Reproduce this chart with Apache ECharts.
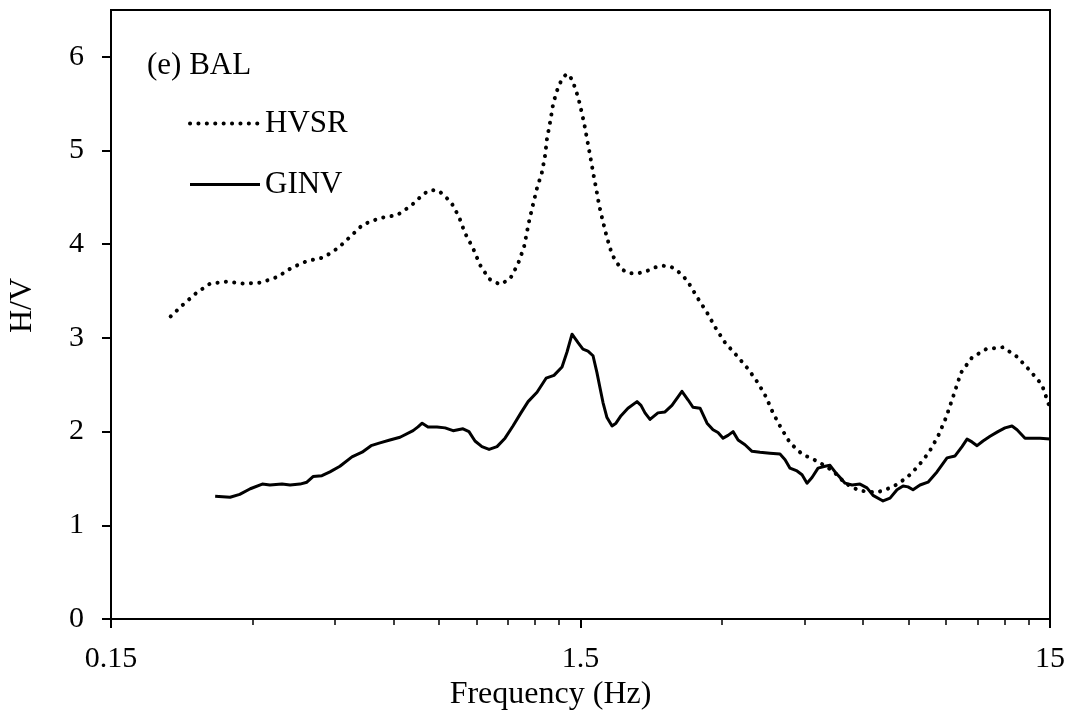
<!DOCTYPE html>
<html>
<head>
<meta charset="utf-8">
<title>H/V spectral ratio – BAL</title>
<script src="https://cdn.jsdelivr.net/npm/echarts@6.0.0/dist/echarts.min.js"></script>
<style>
  html, body { margin: 0; padding: 0; background: #fff; }
  #chart { width: 1073px; height: 715px; }
</style>
</head>
<body>
<div id="chart"></div>
<script>
// Frequency axis ticks (Hz); positions are handled on a log10 scale
const xMajorTicks = [0.15, 1.5, 15];
const xTickLabels = ['0.15', '1.5', '15'];
const xMinorTicks = [0.3, 0.45, 0.6, 0.75, 0.9, 1.05, 1.2, 1.35,
                     3, 4.5, 6, 7.5, 9, 10.5, 12, 13.5];
const yTicks = [0, 1, 2, 3, 4, 5, 6];

// HVSR curve: frequency (Hz) and H/V amplitude
const hvsrFreq = [0.201,0.213,0.228,0.244,0.265,0.288,0.313,0.339,0.364,0.392,
  0.426,0.457,0.480,0.516,0.561,0.610,0.653,0.696,0.721,0.749,
  0.795,0.827,0.851,0.885,0.916,0.958,1.011,1.062,1.104,1.137,
  1.165,1.188,1.212,1.242,1.261,1.273,1.292,1.311,1.324,1.343,
  1.363,1.390,1.404,1.439,1.460,1.482,1.496,1.526,1.548,1.572,
  1.595,1.619,1.643,1.675,1.708,1.751,1.794,1.839,1.903,1.989,
  2.069,2.151,2.248,2.338,2.420,2.492,2.554,2.669,2.790,2.915,
  3.047,3.216,3.411,3.582,3.726,3.855,4.010,4.191,4.446,4.809,
  5.177,5.490,5.880,6.422,6.945,7.440,7.854,8.289,8.661,9.009,
  9.323,9.696,10.23,10.96,11.91,12.76,13.60,14.42,15.0];
const hvsrHV = [3.23,3.35,3.48,3.58,3.60,3.58,3.59,3.65,3.75,3.82,
  3.86,3.96,4.06,4.21,4.28,4.31,4.41,4.54,4.58,4.57,
  4.45,4.29,4.12,3.96,3.78,3.63,3.57,3.63,3.79,3.97,
  4.24,4.42,4.60,4.77,4.95,5.13,5.30,5.49,5.57,5.67,
  5.74,5.80,5.82,5.76,5.67,5.57,5.49,5.30,5.13,4.95,
  4.77,4.60,4.42,4.24,4.07,3.89,3.80,3.73,3.69,3.69,
  3.71,3.75,3.77,3.76,3.71,3.65,3.58,3.42,3.27,3.10,
  2.95,2.82,2.67,2.52,2.37,2.20,2.04,1.88,1.76,1.68,
  1.58,1.45,1.37,1.35,1.41,1.51,1.63,1.78,1.95,2.15,
  2.37,2.63,2.79,2.88,2.90,2.80,2.65,2.50,2.25];

// GINV curve: frequency (Hz) and H/V amplitude
const ginvFreq = [0.250,0.269,0.282,0.297,0.315,0.327,0.347,0.361,0.379,0.392,
  0.404,0.422,0.439,0.461,0.489,0.514,0.537,0.561,0.589,0.619,
  0.660,0.676,0.690,0.710,0.742,0.772,0.803,0.843,0.868,0.894,
  0.925,0.958,0.996,1.036,1.077,1.120,1.160,1.212,1.267,1.317,
  1.370,1.404,1.439,1.482,1.518,1.556,1.595,1.626,1.650,1.675,
  1.708,1.751,1.785,1.830,1.893,1.979,2.018,2.058,2.109,2.193,
  2.270,2.349,2.467,2.541,2.604,2.696,2.790,2.873,2.944,3.018,
  3.093,3.170,3.249,3.361,3.479,3.618,3.798,3.990,4.091,4.191,
  4.338,4.446,4.556,4.669,4.809,4.977,5.100,5.227,5.357,5.490,
  5.682,5.907,6.114,6.297,6.615,6.845,7.083,7.296,7.476,7.662,
  7.929,8.247,8.616,9.053,9.416,9.744,9.986,10.23,10.49,10.80,
  11.18,11.62,12.03,12.45,12.76,13.27,13.73,14.28,15.0];
const ginvHV = [1.31,1.30,1.33,1.39,1.44,1.43,1.44,1.43,1.44,1.46,
  1.52,1.53,1.57,1.63,1.73,1.78,1.85,1.88,1.91,1.94,
  2.01,2.05,2.09,2.05,2.05,2.04,2.01,2.03,2.00,1.90,
  1.84,1.81,1.84,1.93,2.06,2.20,2.32,2.42,2.57,2.60,
  2.69,2.85,3.04,2.95,2.88,2.86,2.81,2.63,2.47,2.31,
  2.15,2.06,2.09,2.17,2.25,2.32,2.28,2.20,2.13,2.20,
  2.21,2.28,2.43,2.34,2.26,2.25,2.09,2.02,1.99,1.93,
  1.96,2.00,1.91,1.86,1.79,1.78,1.77,1.76,1.70,1.61,
  1.58,1.54,1.45,1.51,1.61,1.63,1.64,1.57,1.51,1.45,
  1.43,1.44,1.40,1.32,1.26,1.29,1.38,1.42,1.41,1.38,
  1.43,1.46,1.57,1.72,1.74,1.84,1.92,1.89,1.85,1.90,
  1.95,2.00,2.04,2.06,2.02,1.93,1.93,1.93,1.92];

const FONT = 'Liberation Serif';
const lg = Math.log10;
const toXY = (fs, vs) => fs.map((f, i) => [lg(f), vs[i]]);
const labelFor = v => {
  const idx = xMajorTicks.findIndex(t => Math.abs(lg(t) - v) < 1e-6);
  return idx >= 0 ? xTickLabels[idx] : '';
};

const dottedStyle = { color: '#000', width: 4, type: [0.1, 8.3], cap: 'round', join: 'round' };
const solidStyle = { color: '#000', width: 3, type: 'solid', cap: 'butt', join: 'round' };

const chart = echarts.init(document.getElementById('chart'), null, { renderer: 'canvas' });

chart.setOption({
  animation: false,
  backgroundColor: '#fff',
  title: {
    text: '(e) BAL',
    left: 142,
    top: 45,
    textStyle: { fontFamily: FONT, fontSize: 31, fontWeight: 'normal', color: '#000' }
  },
  legend: {
    orient: 'vertical',
    left: 183,
    top: 103,
    itemWidth: 70,
    itemHeight: 14,
    itemGap: 30,
    selectedMode: false,
    itemStyle: { opacity: 0 },
    textStyle: { fontFamily: FONT, fontSize: 31, color: '#000' },
    data: [
      { name: 'HVSR', lineStyle: dottedStyle, itemStyle: { opacity: 0 } },
      { name: 'GINV', lineStyle: solidStyle, itemStyle: { opacity: 0 } }
    ]
  },
  grid: {
    left: 111, right: 23, top: 10, bottom: 96,
    show: true, borderColor: '#000', borderWidth: 2,
    containLabel: false,
    outerBoundsMode: 'none'
  },
  xAxis: [
    {
      type: 'value',
      min: lg(0.15), max: lg(15),
      position: 'bottom',
      name: 'Frequency (Hz)',
      nameLocation: 'middle',
      nameGap: 59,
      nameTextStyle: { fontFamily: FONT, fontSize: 32, color: '#000', padding: [0, 60, 0, 0] },
      axisLine: { show: true, onZero: false, lineStyle: { color: '#000', width: 2 } },
      axisTick: { show: true, inside: false, length: 9, lineStyle: { color: '#000', width: 2 },
                  customValues: xMajorTicks.map(lg) },
      axisLabel: { show: true, margin: 25, fontFamily: FONT, fontSize: 30, color: '#000',
                   customValues: xMajorTicks.map(lg), formatter: labelFor },
      splitLine: { show: false }
    },
    {
      type: 'value',
      min: lg(0.15), max: lg(15),
      position: 'bottom',
      axisLine: { show: false, onZero: false },
      axisTick: { show: true, inside: false, length: 6, lineStyle: { color: '#000', width: 1.5 },
                  customValues: xMinorTicks.map(lg) },
      axisLabel: { show: false },
      splitLine: { show: false }
    }
  ],
  yAxis: {
    type: 'value',
    min: 0, max: 6.5, interval: 1,
    name: 'H/V',
    nameLocation: 'middle',
    nameGap: 72,
    nameRotate: 90,
    nameTextStyle: { fontFamily: FONT, fontSize: 32, color: '#000', padding: [0, 0, 0, 18] },
    axisLine: { show: true, onZero: false, lineStyle: { color: '#000', width: 2 } },
    axisTick: { show: true, inside: false, length: 9, lineStyle: { color: '#000', width: 2 },
                customValues: yTicks },
    axisLabel: { margin: 27, fontFamily: FONT, fontSize: 30, color: '#000', customValues: yTicks },
    splitLine: { show: false }
  },
  series: [
    {
      name: 'HVSR',
      type: 'line',
      xAxisIndex: 0,
      data: toXY(hvsrFreq, hvsrHV),
      symbol: 'none',
      smooth: false,
      lineStyle: dottedStyle,
      itemStyle: { color: '#000' },
      z: 3
    },
    {
      name: 'GINV',
      type: 'line',
      xAxisIndex: 0,
      data: toXY(ginvFreq, ginvHV),
      symbol: 'none',
      smooth: false,
      lineStyle: solidStyle,
      itemStyle: { color: '#000' },
      z: 4
    }
  ]
});
</script>
</body>
</html>
